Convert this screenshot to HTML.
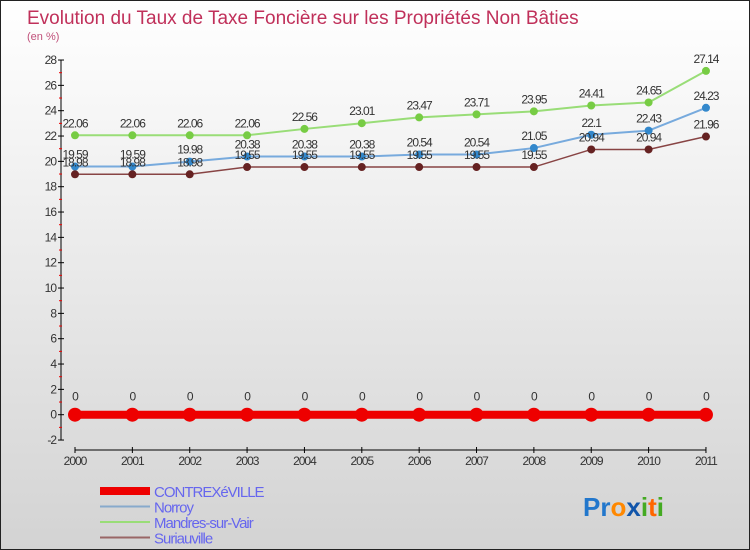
<!DOCTYPE html>
<html><head><meta charset="utf-8"><style>
body{margin:0}
#c{width:750px;height:550px;position:relative;background:linear-gradient(#ffffff,#d3d3d3);box-sizing:border-box;border:1px solid #222;font-family:"Liberation Sans",sans-serif;overflow:hidden}
</style></head><body>
<div id="c">
<svg id="s" width="750" height="550" style="position:absolute;left:-1px;top:-1px"></svg>
</div>
<script>
const years=[2000,2001,2002,2003,2004,2005,2006,2007,2008,2009,2010,2011];
const contrex=[0,0,0,0,0,0,0,0,0,0,0,0];
const norroy=[19.59,19.59,19.98,20.38,20.38,20.38,20.54,20.54,21.05,22.1,22.43,24.23];
const mandres=[22.06,22.06,22.06,22.06,22.56,23.01,23.47,23.71,23.95,24.41,24.65,27.14];
const suri=[18.98,18.98,18.98,19.55,19.55,19.55,19.55,19.55,19.55,20.94,20.94,21.96];
const yTicks=[-2,0,2,4,6,8,10,12,14,16,18,20,22,24,26,28];
const NS='http://www.w3.org/2000/svg',s=document.getElementById('s');
const X=i=>75+i*57.36, Y=v=>414.7-v*12.667;
function el(t,a,p){const e=document.createElementNS(NS,t);for(const k in a)e.setAttribute(k,a[k]);(p||s).appendChild(e);return e;}
function tx(x,y,str,a){const e=el('text',Object.assign({x:x,y:y},a));e.textContent=str;return e;}
let t=tx(27,24,'Evolution du Taux de Taxe Foncière sur les Propriétés Non Bâties',{fill:'#c0305a','font-size':19});

t=tx(27,40,'(en %)',{fill:'#c0507a','font-size':11});

let ax=el('line',{x1:61,y1:60,x2:61,y2:440,stroke:'#000'});

yTicks.forEach(v=>{el('line',{x1:58,x2:64,y1:Y(v),y2:Y(v),stroke:'#000'});
 if(v<28)el('line',{x1:59,x2:62,y1:Y(v+1),y2:Y(v+1),stroke:'#e00'});
 const l=tx(56,Y(v)+4,String(v),{'text-anchor':'end','font-size':12,fill:'#333','letter-spacing':'-1'});
 });
ax=el('line',{x1:75,y1:450,x2:706,y2:450,stroke:'#000'});

years.forEach((y,i)=>{el('line',{x1:X(i),x2:X(i),y1:447,y2:453,stroke:'#000'});
 const l=tx(X(i),465,String(y),{'text-anchor':'middle','font-size':12,fill:'#333','letter-spacing':'-1'});
 });
function series(d,col,dot,w,r,name){
 const p=el('polyline',{points:d.map((v,i)=>X(i)+','+Y(v)).join(' '),fill:'none',stroke:col,'stroke-width':w});
 
 d.forEach((v,i)=>{const c=el('circle',{cx:X(i),cy:Y(v),r:r,fill:dot});
  
  const l=tx(X(i),Y(v)-(name==='contrex'?14:8),String(v),{'text-anchor':'middle','font-size':12,fill:'#333','letter-spacing':'-1'});
  });
}
series(mandres,'#99dd77','#77cc44',2,4,'mandres');
series(norroy,'#77aadd','#3388cc',2,4,'norroy');
series(suri,'#884444','#662222',1.5,4,'suriauville');
series(contrex,'#ee0000','#ee0000',8,7,'contrex');
const leg=[['CONTREXéVILLE','#ee0000',8],['Norroy','#88aacc',2],['Mandres-sur-Vair','#99dd77',2],['Suriauville','#996666',2]];
leg.forEach((L,i)=>{const y=491+i*15.5;
 const g=el('g',{});
 el('line',{x1:100,x2:150,y1:y,y2:y,stroke:L[1],'stroke-width':L[2]},g);
 tx(154,y+6,L[0],{'font-size':15,fill:'#6666ee','letter-spacing':'-1'},g);});
const lg=el('g',{});
const letters=[['P','#2277cc'],['r','#2277cc'],['o','#ff8800'],['x','#1155aa'],['i','#44aa22'],['t','#ff6600'],['i','#44aa22']];
const tt=el('text',{x:583,y:516,'font-size':26,'font-weight':'bold'},lg);
letters.forEach(L=>{const sp=el('tspan',{fill:L[1]},tt);sp.textContent=L[0];});
</script>
</body></html>
